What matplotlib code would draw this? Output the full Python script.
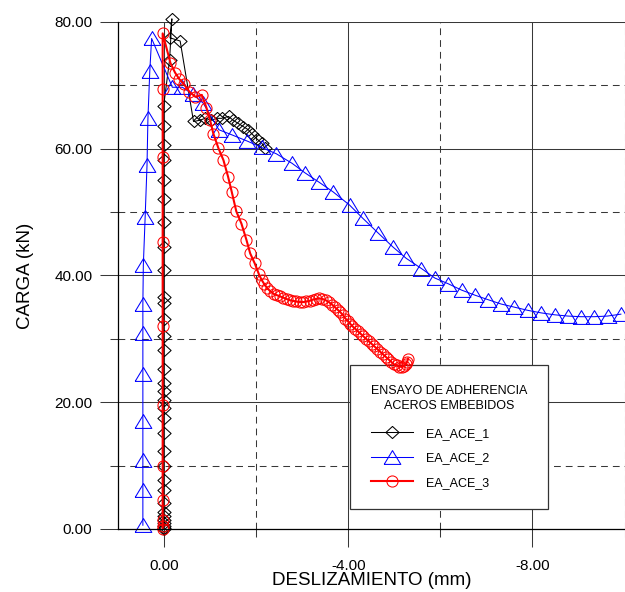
import matplotlib
matplotlib.use("Agg")
import matplotlib.pyplot as plt
from matplotlib.ticker import FormatStrFormatter, MultipleLocator

plt.rcParams['font.family'] = ['Liberation Sans', 'DejaVu Sans']

# EA_ACE_1 (diamonds)
slip_1 = [0.01, 0.01, 0.01, 0.01, 0.01, 0.01, 0.01, 0.01, 0.01, 0.01,
          0.01, 0.01, 0.01, 0.01, 0.01, 0.01, 0.01, 0.01, 0.01, 0.01,
          0.01, 0.01, 0.01, 0.01, 0.01, 0.01, 0.01, 0.01, 0.01, 0.01,
          0.01, 0.01, 0.01, -0.12, -0.17, -0.13, -0.35, -0.64, -0.78, -0.89,
          -1.03, -1.14, -1.25, -1.40, -1.50, -1.61, -1.72, -1.83, -1.90, -2.01,
          -2.12, -2.19]
load_1 = [0.0, 0.2, 0.4, 0.9, 1.4, 2.0, 2.7, 4.1, 6.2, 7.8,
          9.9, 12.3, 15.1, 17.5, 19.1, 20.4, 21.7, 23.1, 25.2, 28.3,
          30.4, 33.1, 35.7, 36.6, 40.8, 44.5, 48.4, 52.0, 55.0, 58.2,
          60.6, 63.6, 66.7, 74.0, 80.5, 77.5, 77.0, 64.3, 64.5, 64.8,
          64.5, 64.8, 64.8, 65.1, 64.5, 64.0, 63.5, 63.0, 62.4, 61.6,
          60.9, 60.1]

# EA_ACE_2 (triangles)
slip_2 = [0.46, 0.46, 0.46, 0.46, 0.46, 0.46, 0.46, 0.45, 0.41, 0.37,
          0.35, 0.31, 0.27, -0.18, -0.40, -0.62, -0.85, -1.19, -1.47, -1.81,
          -2.12, -2.44, -2.78, -3.06, -3.37, -3.67, -4.03, -4.32, -4.65, -4.97,
          -5.26, -5.59, -5.88, -6.17, -6.46, -6.75, -7.03, -7.32, -7.61, -7.90,
          -8.19, -8.48, -8.77, -9.05, -9.34, -9.63, -9.92]
load_2 = [0.6, 6.2, 10.9, 17.0, 24.4, 31.0, 35.5, 41.6, 49.3, 57.4,
          64.8, 72.2, 77.4, 69.7, 69.7, 68.6, 67.2, 63.0, 62.2, 61.2,
          60.2, 59.2, 57.7, 56.2, 54.7, 53.2, 51.1, 49.0, 46.7, 44.5,
          42.7, 41.1, 39.6, 38.7, 37.7, 36.9, 36.2, 35.5, 35.0, 34.5,
          34.1, 33.8, 33.6, 33.5, 33.5, 33.6, 33.9]

# EA_ACE_3 (circles)
slip_3 = [0.03, 0.03, 0.03, 0.03, 0.03, 0.03, 0.03, 0.03, 0.03, 0.03,
          0.03, -0.14, -0.24, -0.33, -0.43, -0.55, -0.68, -0.82, -0.92, -1.00,
          -1.07, -1.18, -1.29, -1.39, -1.47, -1.57, -1.68, -1.79, -1.87, -1.97,
          -2.06, -2.12, -2.18, -2.24, -2.31, -2.38, -2.45, -2.52, -2.59, -2.66,
          -2.73, -2.80, -2.87, -2.95, -3.02, -3.09, -3.16, -3.23, -3.30, -3.37,
          -3.44, -3.51, -3.58, -3.65, -3.71, -3.77, -3.83, -3.89, -3.94, -3.99,
          -4.04, -4.09, -4.15, -4.21, -4.27, -4.33, -4.39, -4.45, -4.51, -4.57,
          -4.63, -4.69, -4.75, -4.81, -4.87, -4.93, -4.99, -5.05, -5.11, -5.16,
          -5.21, -5.25, -5.28, -5.30]
load_3 = [0.0, 0.5, 1.4, 4.6, 10.0, 19.6, 32.0, 45.3, 58.7, 69.5,
          78.2, 73.5, 72.0, 71.0, 70.2, 69.0, 68.2, 68.5, 66.5, 64.5,
          62.4, 60.1, 58.2, 55.6, 53.2, 50.1, 48.2, 45.6, 43.5, 41.9,
          40.2, 39.3, 38.6, 38.0, 37.5, 37.1, 36.9, 36.7, 36.5, 36.3,
          36.1, 36.0, 35.9, 35.8, 35.8, 35.9, 36.0, 36.2, 36.3, 36.4,
          36.3, 36.1, 35.8, 35.4, 35.0, 34.6, 34.2, 33.7, 33.2, 32.8,
          32.4, 32.0, 31.6, 31.2, 30.8, 30.4, 30.0, 29.6, 29.2, 28.8,
          28.4, 28.0, 27.6, 27.2, 26.8, 26.4, 26.0, 25.8, 25.6, 25.6,
          25.7, 26.0, 26.4, 26.9]

series_names = ["EA_ACE_1", "EA_ACE_2", "EA_ACE_3"]

# open marker shapes
diamond = [(0, 0.92), (1, 0), (0, -0.92), (-1, 0), (0, 0.92)]
triangle = [(-1, -0.83), (1, -0.83), (0, 0.83), (-1, -0.83)]

fig = plt.figure(figsize=(6.25, 5.92), dpi=100)
ax = fig.add_axes([118 / 625, 63 / 592, 507 / 625, 507 / 592])

ax.plot(slip_1, load_1, color="black", lw=0.75, marker=diamond, ms=9.5,
        mfc="none", mec="black", mew=0.75, label=series_names[0], clip_on=False)
ax.plot(slip_2, load_2, color="blue", lw=0.75, marker=triangle, ms=12,
        mfc="none", mec="blue", mew=0.75, label=series_names[1], clip_on=False)
ax.plot(slip_3, load_3, color="red", lw=1.5, marker="o", ms=8,
        mfc="none", mec="red", mew=0.75, label=series_names[2], clip_on=False)

ax.set_xlim(1.0, -10.01)
ax.set_ylim(0, 80)

ax.xaxis.set_major_locator(MultipleLocator(4))
ax.xaxis.set_minor_locator(MultipleLocator(2))
ax.yaxis.set_major_locator(MultipleLocator(20))
ax.yaxis.set_minor_locator(MultipleLocator(10))
ax.xaxis.set_major_formatter(FormatStrFormatter("%.2f"))
ax.yaxis.set_major_formatter(FormatStrFormatter("%.2f"))

grid_col = "#383838"
ax.grid(which="major", color=grid_col, lw=0.75, ls="-")
ax.grid(which="minor", color=grid_col, lw=0.75, ls=(0, (6.5, 4.8)))
ax.set_axisbelow(True)

ax.tick_params(which="major", direction="out", length=13, width=0.75,
               color=grid_col, labelsize=11)
ax.tick_params(axis="x", which="major", pad=8.5)
ax.tick_params(axis="y", which="major", pad=5.5)
ax.tick_params(which="minor", direction="out", length=6, width=0.75,
               color=grid_col)

for side in ["top", "right"]:
    ax.spines[side].set_visible(False)
for side in ["left", "bottom"]:
    ax.spines[side].set_linewidth(0.9)

ax.set_xlabel("DESLIZAMIENTO (mm)", fontsize=13.5)
ax.set_ylabel("CARGA (kN)", fontsize=13.5)
ax.xaxis.set_label_coords(0.5, -0.085)
ax.yaxis.set_label_coords(-0.166, 0.5)

leg = ax.legend(title="ENSAYO DE ADHERENCIA\nACEROS EMBEBIDOS", fontsize=9,
                title_fontsize=9, loc="lower left",
                bbox_to_anchor=(0.458, 0.039), borderaxespad=0,
                fancybox=False, framealpha=1, edgecolor="#333333",
                borderpad=1.65, handlelength=3.4, handletextpad=1.0,
                labelspacing=1.0, alignment="left")
leg.get_frame().set_linewidth(0.9)
leg.get_title().set_multialignment("center")
leg.get_title().set_linespacing(1.35)
# a little extra room between the title and the entries
leg._legend_box.sep = 11
# legend sits over the grid but under the curves
leg.set_zorder(1.5)

fig.savefig("out.png", dpi=100)
